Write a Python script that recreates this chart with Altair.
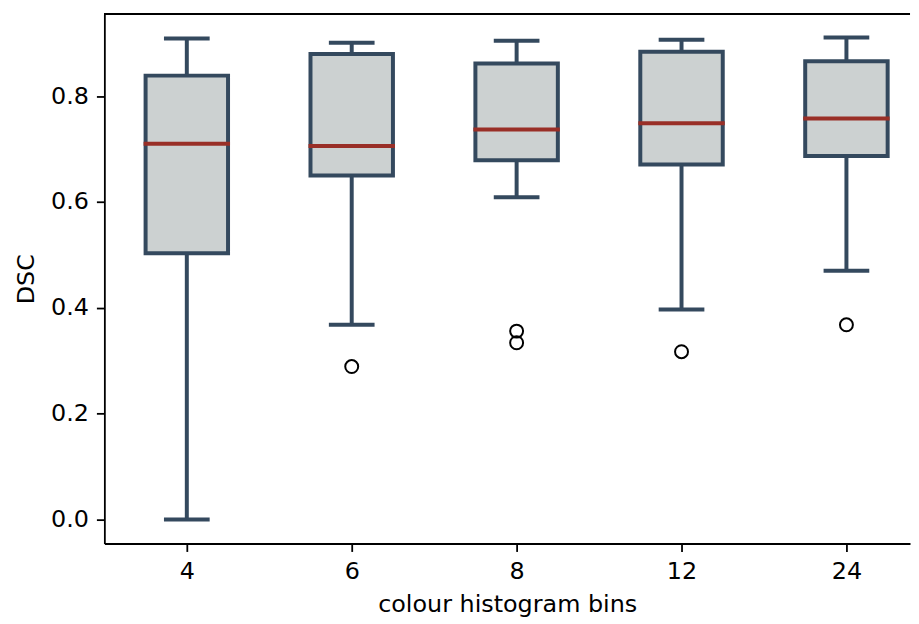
import altair as alt
import pandas as pd

# ---- data ----
bins = ["4", "6", "8", "12", "24"]
whisker_low = [0.000, 0.368, 0.609, 0.397, 0.470]
q1 = [0.503, 0.650, 0.679, 0.671, 0.687]
median = [0.710, 0.706, 0.737, 0.749, 0.758]
q3 = [0.839, 0.880, 0.862, 0.884, 0.866]
whisker_high = [0.909, 0.901, 0.905, 0.907, 0.911]

outlier_bins = ["6", "8", "8", "12", "24"]
outlier_values = [0.289, 0.356, 0.334, 0.317, 0.368]

EDGE = "#34495E"
FILL = "#CCD1D1"
MED = "#992F27"
FONT = "DejaVu Sans"

stats = pd.DataFrame({
    "pos": list(range(len(bins))),
    "bins": bins,
    "lo": whisker_low,
    "q1": q1,
    "med": median,
    "q3": q3,
    "hi": whisker_high,
})
outl = pd.DataFrame({
    "pos": [bins.index(b) for b in outlier_bins],
    "v": outlier_values,
})

W = 811
H = 533
STEP = 166
X_MIN, X_MAX = -0.5, -0.5 + W / STEP
Y_MIN, Y_MAX = -0.0455, 0.9555
xscale = alt.Scale(domain=[X_MIN, X_MAX], nice=False, zero=False, padding=0)
yscale = alt.Scale(domain=[Y_MIN, Y_MAX], nice=False, zero=False, padding=0)

label_expr = " : ".join(
    "datum.value == %d ? '%s'" % (i, b) for i, b in enumerate(bins[:-1])
) + " : '%s'" % bins[-1]
xaxis = alt.Axis(values=list(range(len(bins))), labelExpr=label_expr,
                 title="colour histogram bins", grid=False)
yaxis = alt.Axis(values=[0.0, 0.2, 0.4, 0.6, 0.8], format=".1f", title="DSC", grid=False)


def X():
    return alt.X("pos:Q", scale=xscale, axis=xaxis)


def Y(field):
    return alt.Y(field, scale=yscale, axis=yaxis)


base = alt.Chart(stats)

whisk_lo = base.mark_rule(color=EDGE, strokeWidth=4).encode(
    x=X(), y=Y("lo:Q"), y2="q1:Q")
whisk_hi = base.mark_rule(color=EDGE, strokeWidth=4).encode(
    x=X(), y=Y("q3:Q"), y2="hi:Q")
box = base.mark_bar(fill=FILL, stroke=EDGE, strokeWidth=4, size=83).encode(
    x=X(), y=Y("q1:Q"), y2="q3:Q")
med = base.mark_tick(orient="horizontal", color=MED, thickness=4, size=87, opacity=1).encode(
    x=X(), y=Y("med:Q"))
cap_lo = base.mark_tick(orient="horizontal", color=EDGE, thickness=4, size=46, opacity=1).encode(
    x=X(), y=Y("lo:Q"))
cap_hi = base.mark_tick(orient="horizontal", color=EDGE, thickness=4, size=46, opacity=1).encode(
    x=X(), y=Y("hi:Q"))
pts = alt.Chart(outl).mark_point(shape="circle", filled=False, stroke="black",
                                 strokeWidth=2, size=170, opacity=1).encode(
    x=X(), y=Y("v:Q"))

top_spine = alt.Chart(stats).mark_rule(color="black", strokeWidth=1.8).encode(
    x=alt.X(datum=X_MIN, scale=xscale, axis=xaxis),
    x2=alt.X2(datum=X_MAX),
    y=alt.Y(datum=Y_MAX, scale=yscale, axis=yaxis),
)

chart = alt.layer(whisk_lo, whisk_hi, box, med, cap_lo, cap_hi, pts, top_spine).properties(
    width=W, height=H,
    padding={"left": 6, "top": 3, "right": 0, "bottom": 5},
).configure_view(stroke=None).configure_axis(
    labelFont=FONT, titleFont=FONT, labelFontSize=24, titleFontSize=24,
    labelColor="black", titleColor="black", titleFontWeight="normal",
    domainColor="black", domainWidth=1.8, tickColor="black", tickWidth=1.8,
    tickSize=8, labelPadding=8,
).configure_axisY(titlePadding=12).configure_axisX(titlePadding=9)

chart.save("out.html", embed_options={"renderer": "svg", "actions": False})
